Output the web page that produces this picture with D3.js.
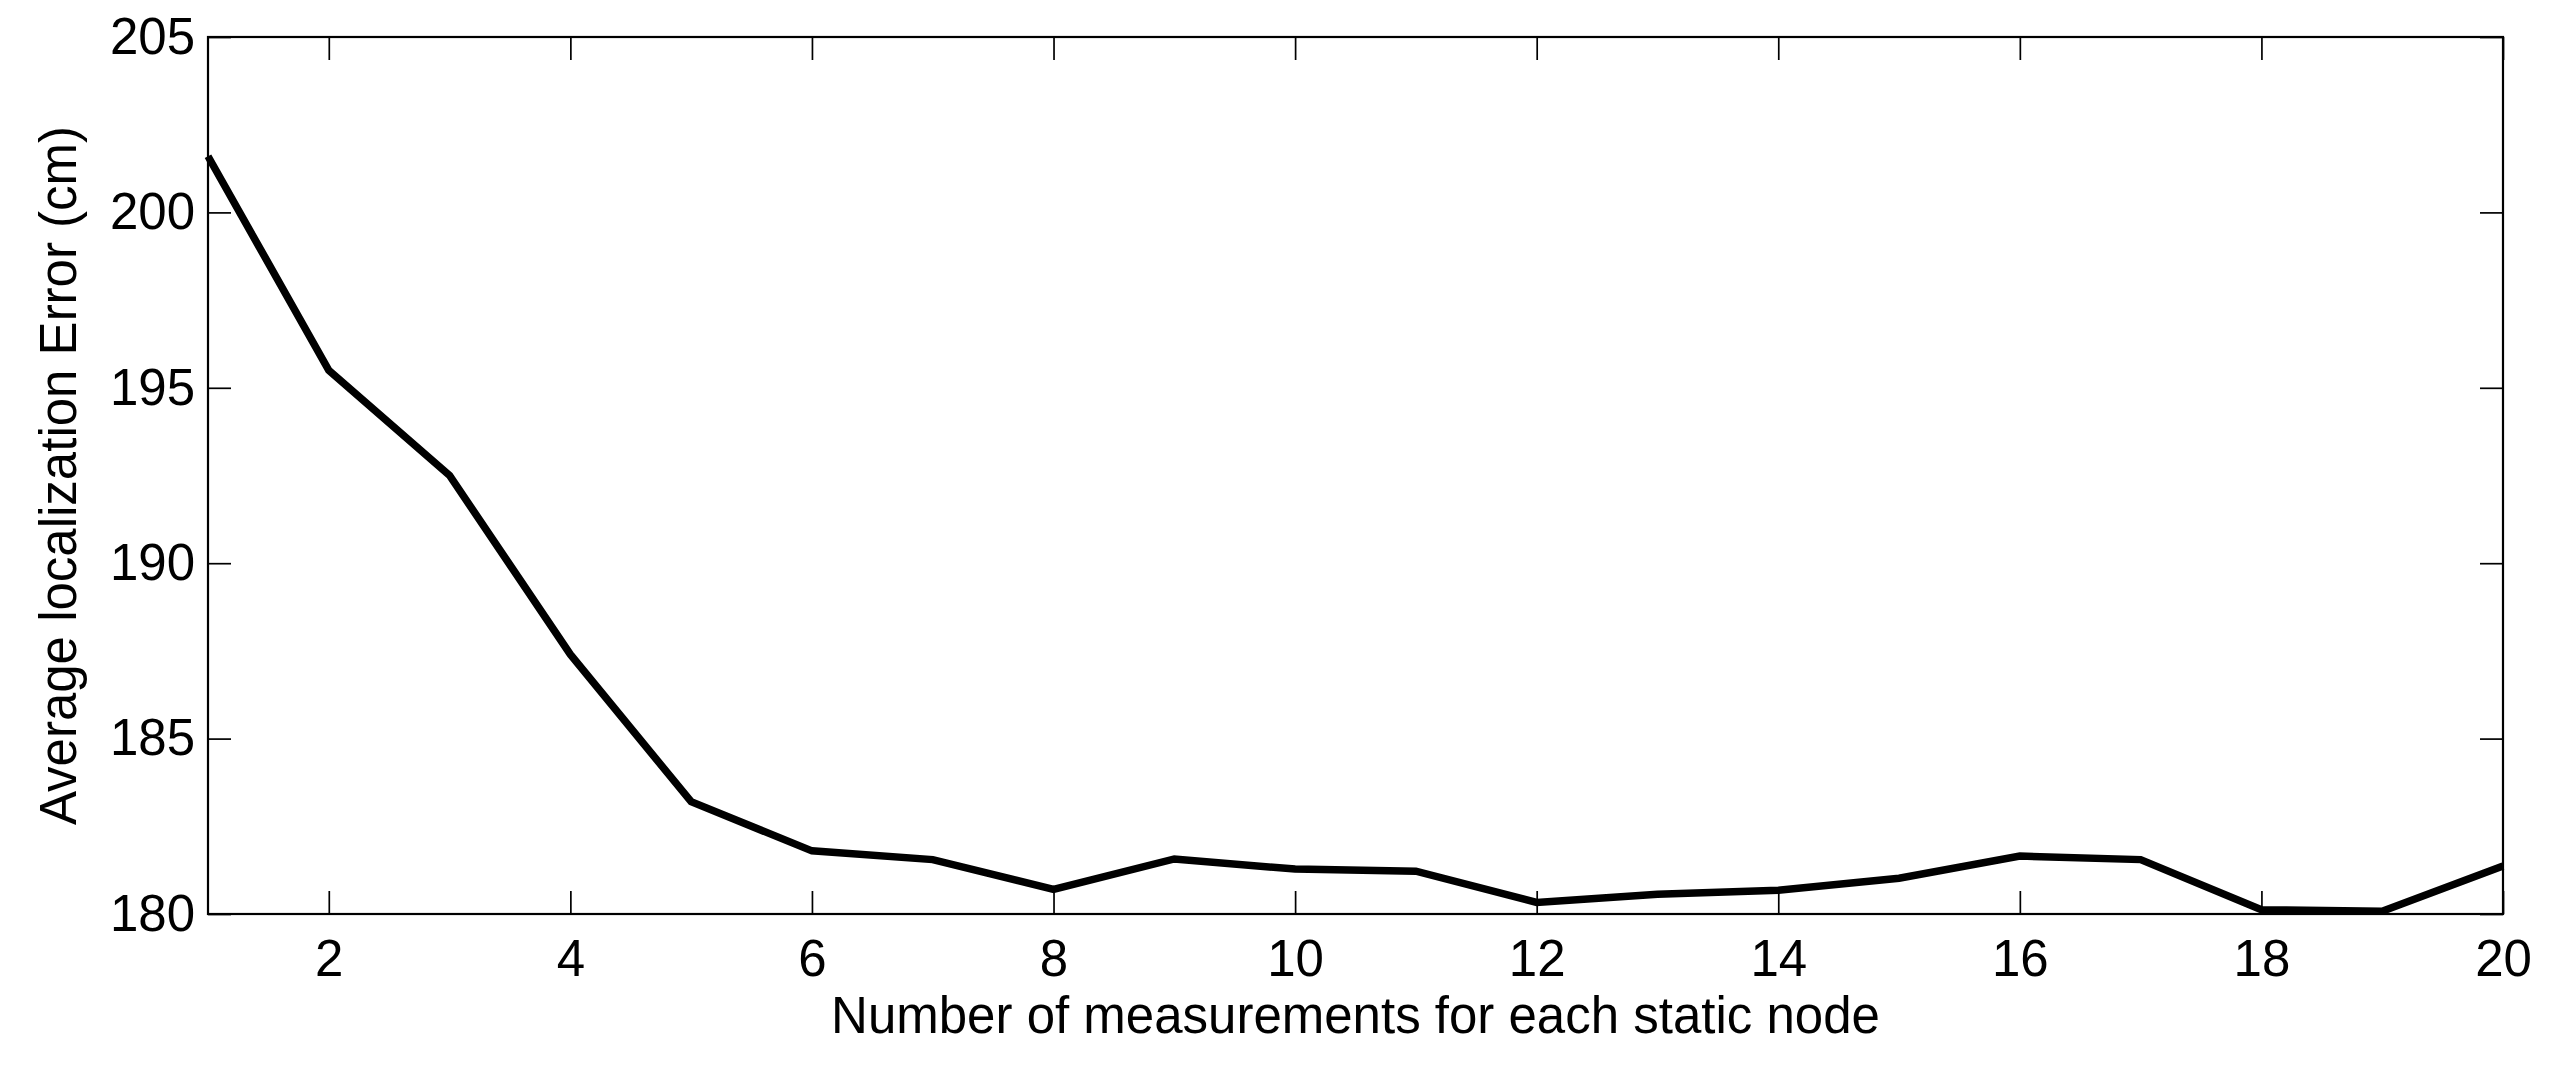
<!DOCTYPE html>
<html>
<head>
<meta charset="utf-8">
<script src="https://cdn.jsdelivr.net/npm/d3@7"></script>
<style>
  html, body { margin: 0; padding: 0; background: #fff; }
  svg { display: block; }
  text { font-family: "Liberation Sans", Arial, Helvetica, sans-serif; fill: #000; }
</style>
</head>
<body>
<svg id="chart" width="2557" height="1073"></svg>
<script>
// ---- data ----
const measurements = [1,2,3,4,5,6,7,8,9,10,11,12,13,14,15,16,17,18,19,20];
const avgError = [201.6,195.5,192.5,187.4,183.2,181.8,181.55,180.7,181.57,181.28,181.22,180.33,180.56,180.68,181.02,181.65,181.55,180.12,180.08,181.37];
const xTicks = [2,4,6,8,10,12,14,16,18,20];
const yTicks = [180,185,190,195,200,205];
const xLabel = "Number of measurements for each static node";
const yLabel = "Average localization Error (cm)";

// ---- layout ----
const L = 208, R = 2503, T = 37, B = 914;
const svg = d3.select("#chart");

const x = d3.scaleLinear().domain([1,20]).range([L,R]);
const y = d3.scaleLinear().domain([180,205]).range([B,T]);

const fontSize = 51;
const tickLen = 23;

const gB = svg.append("g").attr("transform", `translate(0,${B})`)
  .call(d3.axisBottom(x).tickValues(xTicks).tickSizeInner(-tickLen).tickSizeOuter(0).tickPadding(26).tickFormat(d3.format("d")));
const gT = svg.append("g").attr("transform", `translate(0,${T})`)
  .call(d3.axisTop(x).tickValues(xTicks).tickSizeInner(-tickLen).tickSizeOuter(0).tickFormat(""));
const gL = svg.append("g").attr("transform", `translate(${L},0)`)
  .call(d3.axisLeft(y).tickValues(yTicks).tickSizeInner(-tickLen).tickSizeOuter(0).tickPadding(13).tickFormat(d3.format("d")));
const gR = svg.append("g").attr("transform", `translate(${R},0)`)
  .call(d3.axisRight(y).tickValues(yTicks).tickSizeInner(-tickLen).tickSizeOuter(0).tickFormat(""));

[gB,gT,gL,gR].forEach(g => {
  g.select(".domain").remove();
  g.selectAll(".tick line").attr("stroke","#000").attr("stroke-width",1.7);
  g.selectAll(".tick text").attr("font-size", fontSize).attr("fill","#000")
    .style("font-family", '"Liberation Sans", Arial, Helvetica, sans-serif');
});

svg.append("rect")
  .attr("x", x(1)).attr("y", y(205))
  .attr("width", x(20)-x(1)).attr("height", y(180)-y(205))
  .attr("fill","none").attr("stroke","#000").attr("stroke-width",2.2);

const line = d3.line().x((d,i) => x(measurements[i])).y(d => y(d));
svg.append("path")
  .datum(avgError)
  .attr("d", line)
  .attr("fill","none")
  .attr("stroke","#000")
  .attr("stroke-width",7.5)
  .attr("stroke-linejoin","miter");

svg.append("text")
  .attr("x", (L+R)/2).attr("y", 1033)
  .attr("text-anchor","middle")
  .attr("font-size", fontSize)
  .text(xLabel);

svg.append("text")
  .attr("transform", `translate(76,${(T+B)/2}) rotate(-90)`)
  .attr("text-anchor","middle")
  .attr("font-size", fontSize)
  .text(yLabel);
</script>
</body>
</html>
